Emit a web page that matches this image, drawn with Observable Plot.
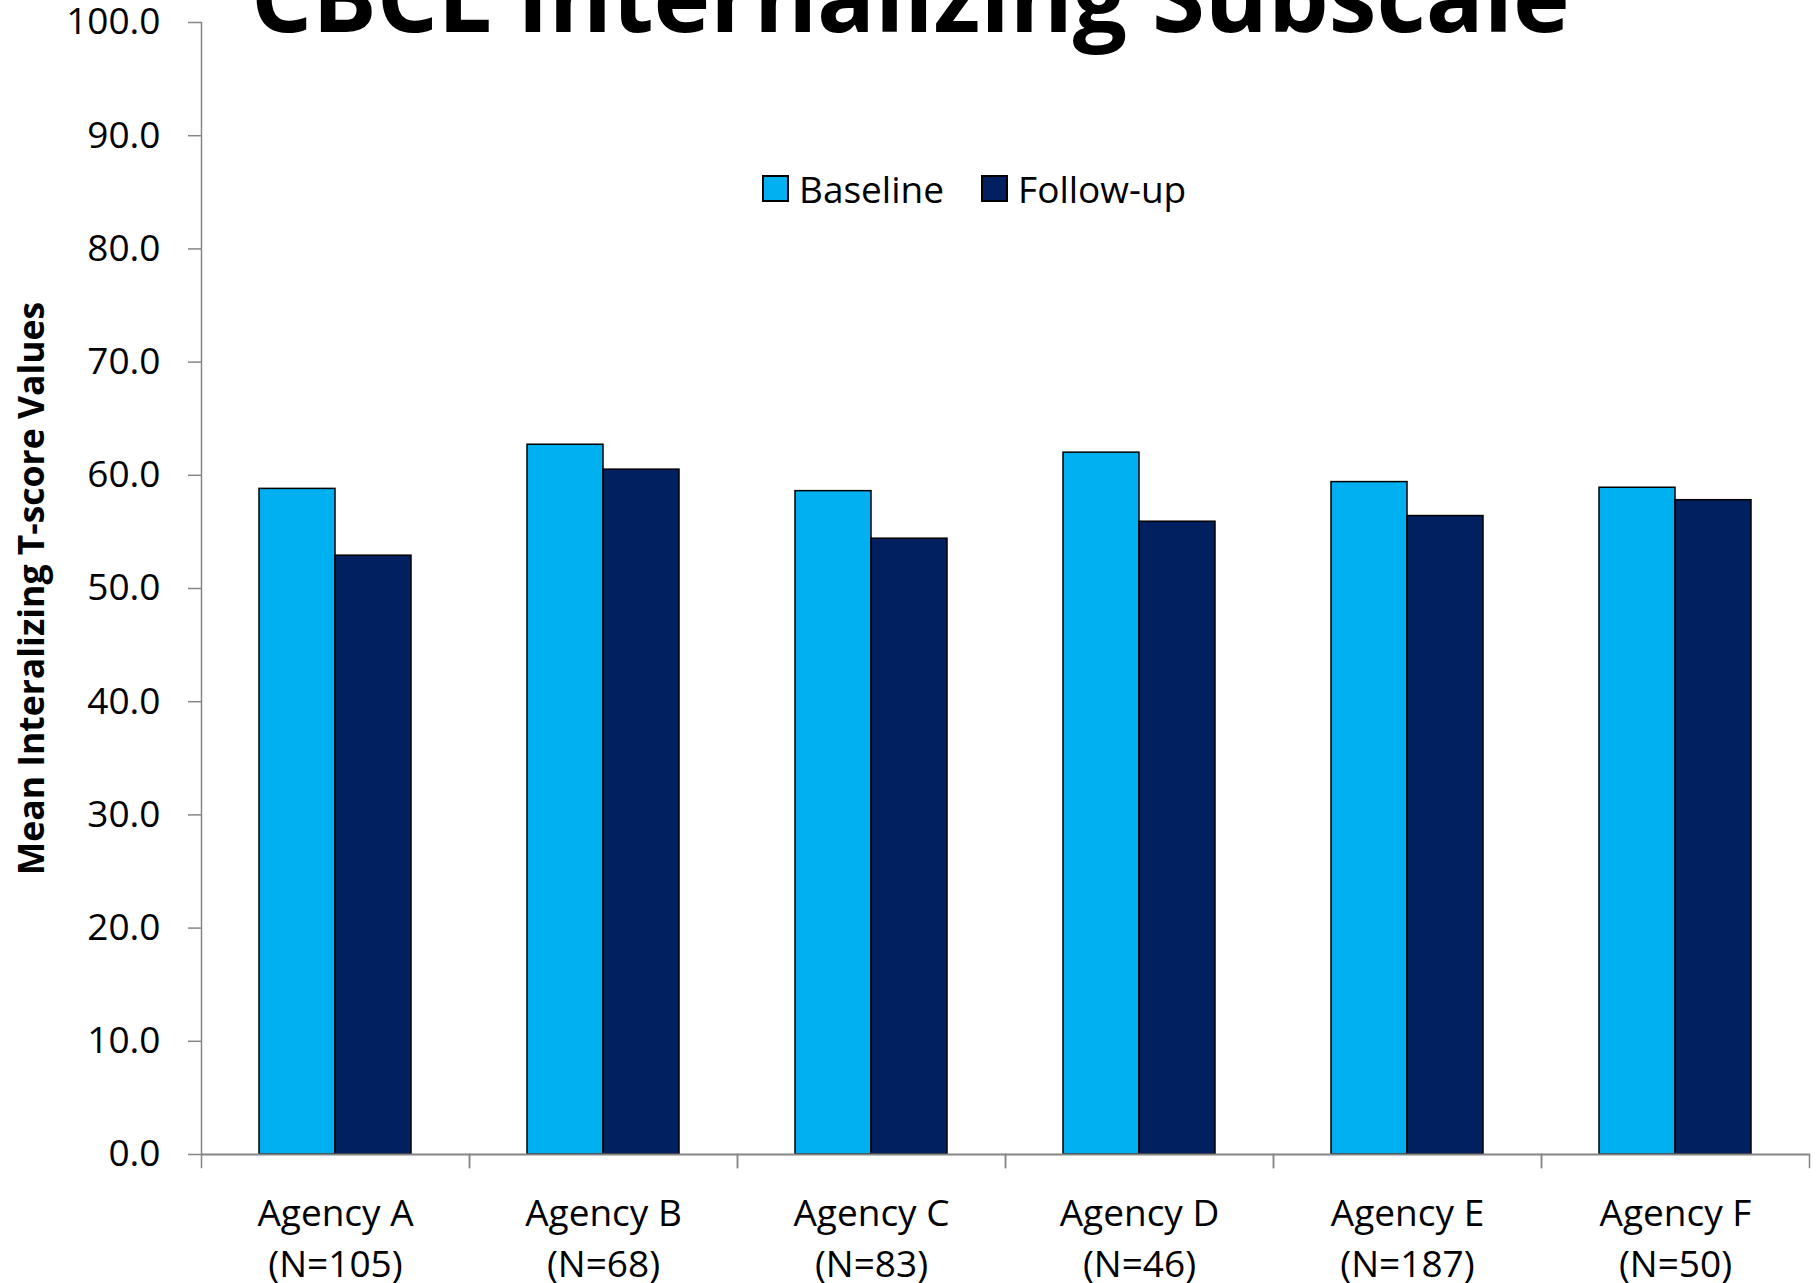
<!DOCTYPE html>
<html>
<head>
<meta charset="utf-8">
<script src="https://cdn.jsdelivr.net/npm/d3@7"></script>
<script src="https://cdn.jsdelivr.net/npm/@observablehq/plot@0.6"></script>
<style>
  html, body { margin: 0; padding: 0; background: #fff; }
  #wrap { position: relative; width: 1819px; height: 1283px; overflow: hidden; }
  #title { position: absolute; left: 251px; top: -53px; margin: 0; white-space: nowrap;
           font: bold 96px/96px "Open Sans", sans-serif; color: #000; }
  #legend { position: absolute; left: 763px; top: 163px; }
  .lg-swatches { font-family: "Open Sans", sans-serif !important; font-size: 37px !important; color: #000 !important; margin: 0 !important; min-height: 0 !important; }
  .lg-swatch { margin-right: 38px !important; }
  .lg-swatch > svg { margin-right: 11px !important; overflow: visible !important; }
  .lg-swatch > svg rect { stroke: #000; stroke-width: 2px; }
  #chart { position: absolute; left: 0; top: 0; }
</style>
</head>
<body>
<div id="wrap">
  <div id="chart"></div>
  <div id="title">CBCL Internalizing Subscale</div>
  <div id="legend"></div>
</div>
<script>
// ---- data ----
const agencies = ["Agency A", "Agency B", "Agency C", "Agency D", "Agency E", "Agency F"];
const sampleSizes = [105, 68, 83, 46, 187, 50];
const series = ["Baseline", "Follow-up"];
const baselineValues = [58.8, 62.7, 58.6, 62.0, 59.4, 58.9];
const followupValues = [52.9, 60.5, 54.4, 55.9, 56.4, 57.8];
const yTicks = [0, 10, 20, 30, 40, 50, 60, 70, 80, 90, 100];
const colors = ["#00B0F0", "#002060"];
const yLabel = "Mean Interalizing T-score Values";

const rows = [];
agencies.forEach((a, i) => {
  rows.push({agency: a, series: series[0], value: baselineValues[i]});
  rows.push({agency: a, series: series[1], value: followupValues[i]});
});
const nByAgency = new Map(agencies.map((a, i) => [a, sampleSizes[i]]));

const W = 1819, H = 1283;
const mT = 22, mB = 129, mL = 199, mR = 8;
const axisGray = "#868686";

const chart = Plot.plot({
  width: W,
  height: H,
  marginTop: mT,
  marginBottom: mB,
  marginLeft: mL,
  marginRight: mR,
  style: {fontFamily: "Open Sans, sans-serif", fontSize: "37px", color: "#000", background: "transparent"},
  fx: {domain: agencies, padding: 0, axis: null},
  x: {domain: series, paddingInner: 0, paddingOuter: 0.745, axis: null},
  y: {domain: [0, 100], axis: null},
  color: {domain: series, range: colors},
  marks: [
    Plot.barY(rows, {fx: "agency", x: "series", y: "value", fill: "series", stroke: "#000", strokeWidth: 1.5}),
    Plot.ruleY([0], {stroke: axisGray, strokeWidth: 2}),
    Plot.frame({anchor: "left", facetAnchor: "left", stroke: axisGray, strokeWidth: 1.5}),
    Plot.frame({anchor: "left", stroke: axisGray, strokeWidth: 1.5, insetTop: H - mT - mB, insetBottom: -13}),
    Plot.frame({anchor: "right", stroke: axisGray, strokeWidth: 1.5, insetTop: H - mT - mB, insetBottom: -13}),
    Plot.axisY({
      ticks: yTicks, tickFormat: d3.format(".1f"), tickSize: 13, tickPadding: 28,
      fontSize: 37, stroke: axisGray, fill: "#000", strokeWidth: 1.5, label: null
    }),
    Plot.axisY({
      ticks: [], tickSize: 0, label: yLabel, labelAnchor: "center", labelArrow: "none",
      labelOffset: 183, fontSize: 35.5, fontWeight: "bold", fill: "#000"
    }),
    Plot.axisFx({
      anchor: "bottom", tickSize: 0, tickPadding: 35, fontSize: 37, lineHeight: 1.38, fill: "#000", label: null,
      tickFormat: (d) => `${d}\n(N=${nByAgency.get(d)})`
    })
  ]
});
document.getElementById("chart").appendChild(chart);

const legend = Plot.legend({
  color: {domain: series, range: colors},
  legend: "swatches",
  swatchSize: 25,
  className: "lg"
});
document.getElementById("legend").appendChild(legend);
</script>
</body>
</html>
